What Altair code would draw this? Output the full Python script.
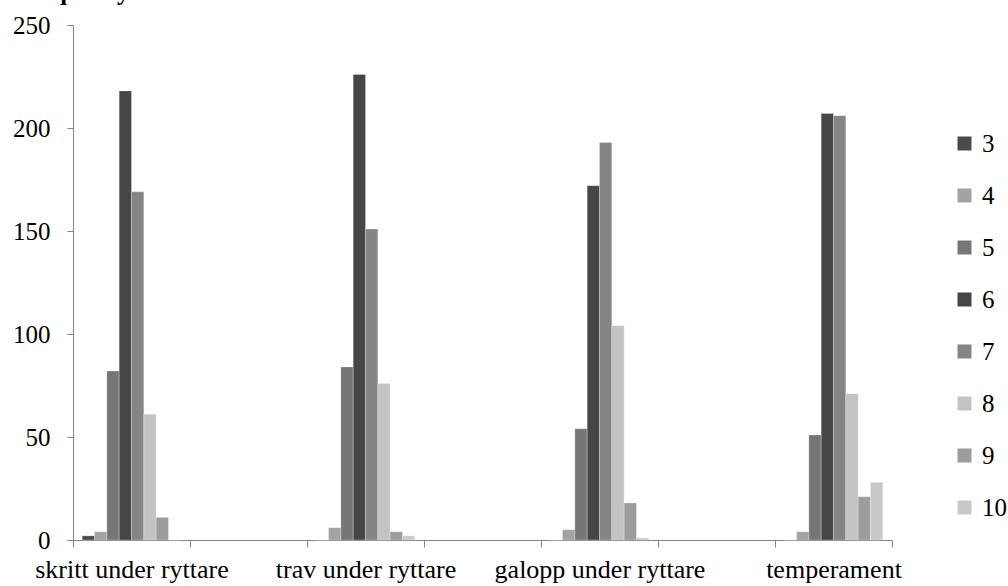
import altair as alt
import pandas as pd

categories = ["skritt under ryttare", " ", "trav under ryttare", "  ",
              "galopp under ryttare", "   ", "temperament"]
series = ["3", "4", "5", "6", "7", "8", "9", "10"]
colors = ["#4a4a4a", "#a3a3a3", "#767676", "#464646", "#858585", "#c3c3c3", "#9c9c9c", "#c8c8c8"]

skritt = [2, 4, 82, 218, 169, 61, 11, 0]
trav = [0, 6, 84, 226, 151, 76, 4, 2]
galopp = [0, 5, 54, 172, 193, 104, 18, 1]
temperament = [0, 4, 51, 207, 206, 71, 21, 28]

rows = []
for cat, vals in [("skritt under ryttare", skritt), ("trav under ryttare", trav),
                  ("galopp under ryttare", galopp), ("temperament", temperament)]:
    for s, v in zip(series, vals):
        rows.append({"cat": cat, "series": s, "value": v})
df = pd.DataFrame(rows)

FONT = "Liberation Serif"
AXC = "#868686"

bars = alt.Chart(df).mark_bar(stroke="#ffffff", strokeWidth=0.5, strokeOpacity=0.5).encode(
    x=alt.X("cat:N", sort=categories,
            scale=alt.Scale(domain=categories, paddingInner=0, paddingOuter=0),
            axis=alt.Axis(title=None, labelAngle=0, tickBand="extent", tickSize=7,
                          labelPadding=9, labelOverlap=False, labelBound=False, labelLimit=0,
                          labelFont=FONT, labelFontSize=26, labelColor="#000000",
                          domainColor=AXC, tickColor=AXC, grid=False)),
    xOffset=alt.XOffset("series:N", sort=series,
                        scale=alt.Scale(domain=series, paddingInner=0, paddingOuter=0.75)),
    y=alt.Y("value:Q", scale=alt.Scale(domain=[0, 250], nice=False),
            axis=alt.Axis(title=None, values=[0, 50, 100, 150, 200, 250], tickSize=6,
                          labelPadding=17, labelFont=FONT, labelFontSize=25,
                          labelColor="#000000", domainColor=AXC, tickColor=AXC, grid=False)),
    color=alt.Color("series:N", sort=series,
                    scale=alt.Scale(domain=series, range=colors),
                    legend=alt.Legend(title=None, orient="none", legendX=879, legendY=106,
                                      symbolType="square", symbolSize=196, symbolStrokeWidth=0,
                                      labelFont=FONT, labelFontSize=25, labelColor="#000000",
                                      rowPadding=26, labelOffset=5, padding=0)),
)

title = alt.Chart(pd.DataFrame({"t": ["Frequency"]})).mark_text(
    font=FONT, fontSize=25, fontWeight="bold", align="left", baseline="alphabetic", color="#000000"
).encode(x=alt.value(-57), y=alt.value(-25), text="t:N")

chart = alt.layer(bars, title).properties(
    width=819, height=515,
    autosize="none",
    padding={"left": 73, "top": 25, "right": 116, "bottom": 46},
    background="#ffffff",
).configure_view(stroke=None)

chart.save("out.html", embed_options={"renderer": "svg", "actions": False})
